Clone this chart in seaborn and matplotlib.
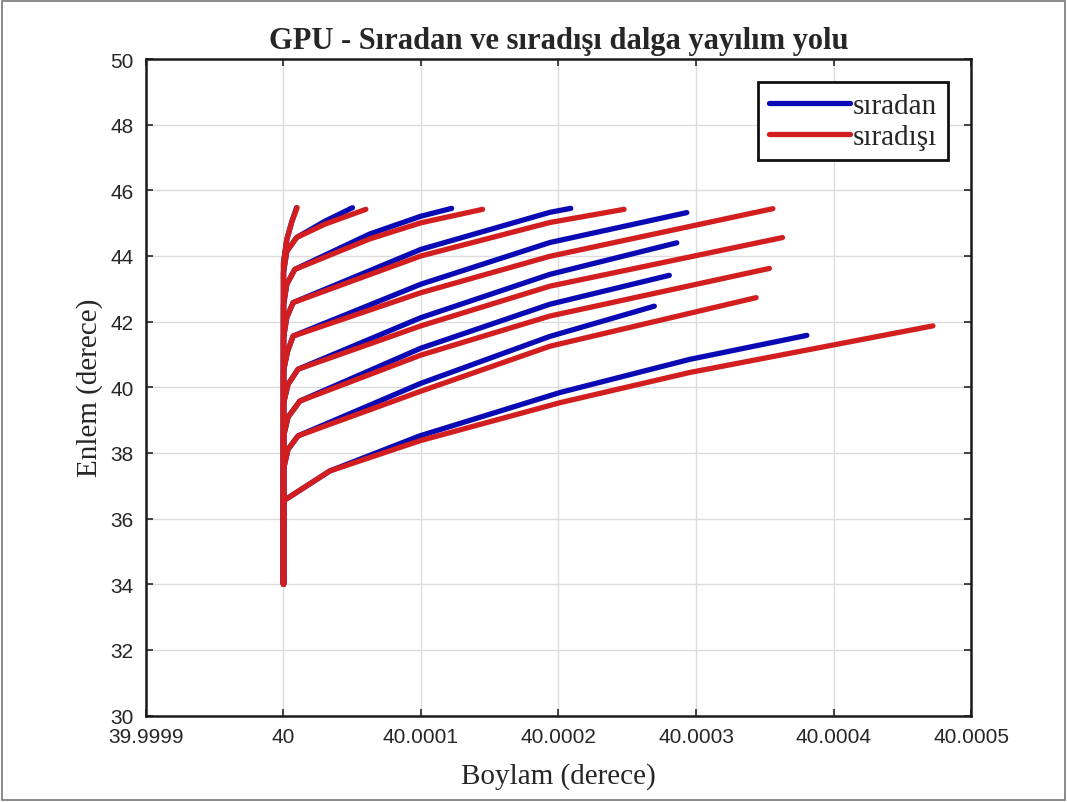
import matplotlib
matplotlib.use("Agg")
import matplotlib.pyplot as plt
import seaborn as sns
import pandas as pd
from matplotlib.lines import Line2D
from matplotlib.patches import Rectangle

# ---------------- data ----------------
series_names = ["sıradan", "sıradışı"]

# longitude / latitude of every ray, sıradan (ordinary) wave
siradan_boylam = [
    [40, 40, 40.0000337, 40.0000992, 40.0002011, 40.0002955, 40.0003806],
    [40, 40, 40.0000033, 40.0000106, 40.0000999, 40.0001938, 40.0002697],
    [40, 40, 40.0000033, 40.0000119, 40.0000999, 40.0001938, 40.0002806],
    [40, 40, 40.0000033, 40.0000106, 40.0000999, 40.0001938, 40.0002860],
    [40, 40, 40.0000030, 40.0000070, 40.0000999, 40.0001938, 40.0002933],
    [40, 40, 40.0000024, 40.0000070, 40.0000999, 40.0001938, 40.0002089],
    [40, 40, 40.0000024, 40.0000082, 40.0000628, 40.0000999, 40.0001223],
    [40, 40, 40.0000024, 40.0000095, 40.0000302, 40.0000502],
    [40, 40, 40.0000024, 40.0000061, 40.0000095],
]
siradan_enlem = [
    [34, 36.54, 37.45, 38.52, 39.84, 40.85, 41.58],
    [34, 37.50, 38.11, 38.52, 40.12, 41.55, 42.47],
    [34, 38.50, 39.09, 39.58, 41.19, 42.53, 43.41],
    [34, 39.50, 40.09, 40.55, 42.12, 43.44, 44.40],
    [34, 40.50, 41.10, 41.56, 43.14, 44.41, 45.32],
    [34, 41.50, 42.13, 42.58, 44.20, 45.33, 45.45],
    [34, 42.50, 43.14, 43.59, 44.67, 45.21, 45.45],
    [34, 43.50, 44.14, 44.56, 45.06, 45.47],
    [34, 43.80, 44.50, 45.05, 45.47],
]

# sıradışı (extraordinary) wave
siradisi_boylam = [
    [40, 40, 40.0000337, 40.0000992, 40.0002011, 40.0002955, 40.0004723],
    [40, 40, 40.0000033, 40.0000106, 40.0000999, 40.0001938, 40.0003437],
    [40, 40, 40.0000033, 40.0000119, 40.0000999, 40.0001938, 40.0003534],
    [40, 40, 40.0000033, 40.0000106, 40.0000999, 40.0001938, 40.0003629],
    [40, 40, 40.0000030, 40.0000070, 40.0000999, 40.0001938, 40.0003559],
    [40, 40, 40.0000024, 40.0000070, 40.0000999, 40.0001938, 40.0002477],
    [40, 40, 40.0000024, 40.0000082, 40.0000628, 40.0000999, 40.0001448],
    [40, 40, 40.0000024, 40.0000095, 40.0000302, 40.0000599],
    [40, 40, 40.0000024, 40.0000061, 40.0000099],
]
siradisi_enlem = [
    [34, 36.54, 37.45, 38.37, 39.53, 40.45, 41.87],
    [34, 37.50, 38.11, 38.52, 39.88, 41.25, 42.73],
    [34, 38.50, 39.09, 39.58, 40.98, 42.17, 43.62],
    [34, 39.50, 40.09, 40.55, 41.87, 43.08, 44.56],
    [34, 40.50, 41.10, 41.56, 42.88, 43.99, 45.44],
    [34, 41.50, 42.13, 42.58, 44.00, 45.02, 45.42],
    [34, 42.50, 43.14, 43.59, 44.52, 45.01, 45.42],
    [34, 43.50, 44.14, 44.56, 44.97, 45.42],
    [34, 43.80, 44.50, 45.05, 45.47],
]

x_ticks = [39.9999, 40.0, 40.0001, 40.0002, 40.0003, 40.0004, 40.0005]
x_tick_labels = ["39.9999", "40", "40.0001", "40.0002", "40.0003", "40.0004", "40.0005"]
y_ticks = [30, 32, 34, 36, 38, 40, 42, 44, 46, 48, 50]

title_text = "GPU - Sıradan ve sıradışı dalga yayılım yolu"
x_label = "Boylam (derece)"
y_label = "Enlem (derece)"

# ---------------- build long table ----------------
rows = []
for name, lons, lats in [(series_names[0], siradan_boylam, siradan_enlem),
                         (series_names[1], siradisi_boylam, siradisi_enlem)]:
    for k, (lo, la) in enumerate(zip(lons, lats)):
        for i, (x, y) in enumerate(zip(lo, la)):
            rows.append({"dalga": name, "ray": k, "order": i, "boylam": x, "enlem": y})
df = pd.DataFrame(rows)

# ---------------- plot ----------------
sns.set_style("ticks")
plt.rcParams["font.family"] = ["Liberation Sans", "DejaVu Sans"]

BLUE = "#0a0ab4"
RED = "#d21e1e"
palette = {series_names[0]: BLUE, series_names[1]: RED}
LW = 3.8

fig = plt.figure(figsize=(10.67, 8.03), dpi=100)
ax = fig.add_axes([0.13683, 0.10772, 0.77320, 0.81756])

sns.lineplot(data=df, x="boylam", y="enlem", hue="dalga", units="ray",
             estimator=None, sort=False, palette=palette, linewidth=LW,
             legend=False, ax=ax, hue_order=series_names)
for ln in ax.lines:
    ln.set_solid_joinstyle("round")

ax.set_xlim(x_ticks[0], x_ticks[-1])
ax.set_ylim(y_ticks[0], y_ticks[-1])
ax.set_xticks(x_ticks)
ax.set_xticklabels(x_tick_labels)
ax.set_yticks(y_ticks)
ax.grid(True, color="#dcdcdc", linewidth=1.0)
ax.set_axisbelow(True)

ax.tick_params(direction="in", top=True, right=True, length=5, width=1.2,
               labelsize=15, labelcolor="#262626", color="#262626")
ax.tick_params(axis="x", pad=8)
ax.tick_params(axis="y", pad=9)
for sp in ax.spines.values():
    sp.set_visible(True)
    sp.set_linewidth(1.8)
    sp.set_color("#1a1a1a")

serif = ["Liberation Serif", "DejaVu Serif"]
ax.set_title(title_text, fontsize=22, fontweight="bold", family=serif, pad=8)
ax.set_xlabel(x_label, fontsize=21, family=serif, color="#262626", labelpad=12)
ax.set_ylabel(y_label, fontsize=21, family=serif, color="#262626", labelpad=5)

handles = [Line2D([], [], color=palette[n], linewidth=LW) for n in series_names]
leg = ax.legend(handles, series_names, loc="upper right", fancybox=False,
                framealpha=1, edgecolor="#111111", handlelength=2.8,
                borderaxespad=0.8, prop={"family": serif, "size": 21},
                handletextpad=0.1, labelspacing=0.15, borderpad=0.35)
leg.get_frame().set_linewidth(2.0)

fig.patches.append(Rectangle((0.002, 0.003), 0.996, 0.995, transform=fig.transFigure,
                             fill=False, edgecolor="#777777", linewidth=1.2))

fig.savefig("out.png", dpi=100, facecolor="white")
